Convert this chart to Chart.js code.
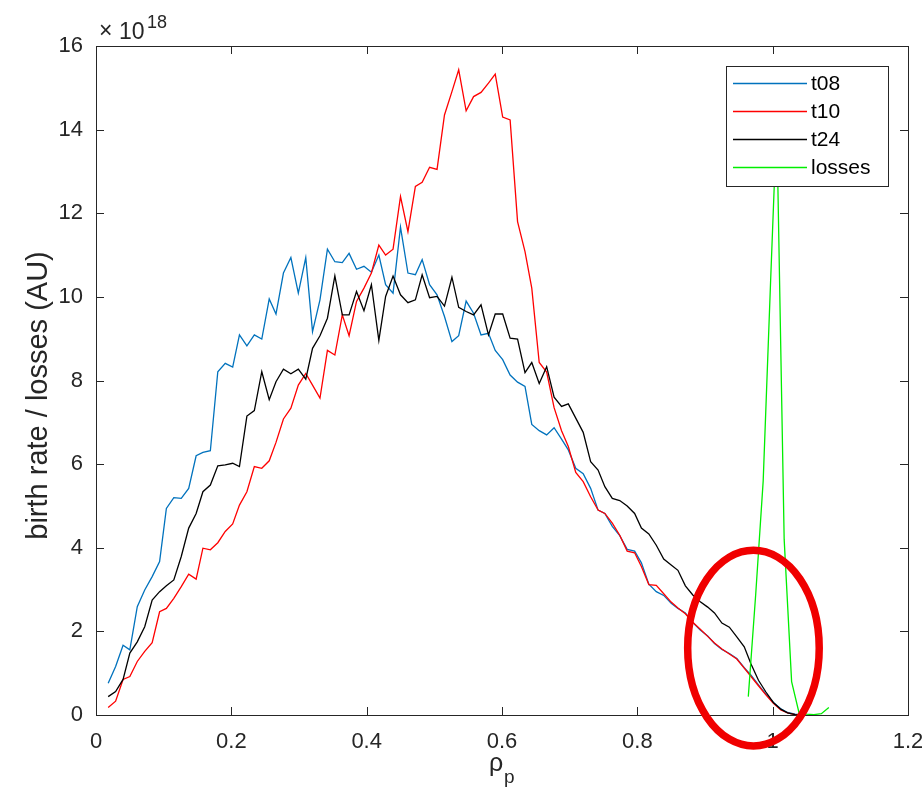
<!DOCTYPE html>
<html>
<head>
<meta charset="utf-8">
<title>birth rate / losses</title>
<script src="https://cdn.jsdelivr.net/npm/chart.js@4.4.1/dist/chart.umd.min.js"></script>
<style>
  html, body { margin: 0; padding: 0; background: #fff; }
  canvas { display: block; }
</style>
</head>
<body>
<canvas id="birthChart" width="922" height="801"></canvas>
<script>
// normalised poloidal radius of the birth profiles
const rho = [
  0.018, 0.029, 0.040, 0.050, 0.061, 0.072, 0.083, 0.094, 0.104, 0.115,
  0.126, 0.137, 0.148, 0.158, 0.169, 0.180, 0.191, 0.202, 0.212, 0.223,
  0.234, 0.245, 0.256, 0.266, 0.277, 0.288, 0.299, 0.310, 0.320, 0.331,
  0.342, 0.353, 0.364, 0.374, 0.385, 0.396, 0.407, 0.418, 0.428, 0.439,
  0.450, 0.461, 0.472, 0.482, 0.493, 0.504, 0.515, 0.526, 0.536, 0.547,
  0.558, 0.569, 0.580, 0.590, 0.601, 0.612, 0.623, 0.634, 0.644, 0.655,
  0.666, 0.677, 0.688, 0.698, 0.709, 0.720, 0.731, 0.742, 0.752, 0.763,
  0.774, 0.785, 0.796, 0.806, 0.817, 0.828, 0.839, 0.850, 0.860, 0.871,
  0.882, 0.893, 0.904, 0.914, 0.925, 0.936, 0.947, 0.958, 0.968, 0.979,
  0.990, 1.001, 1.012, 1.022, 1.033, 1.044
];

// birth rates, in units of 1e18
const t08 = [
  0.76, 1.16, 1.67, 1.56, 2.59, 2.99, 3.31, 3.67, 4.94, 5.20,
  5.18, 5.42, 6.20, 6.28, 6.32, 8.21, 8.41, 8.32, 9.09, 8.83,
  9.09, 8.99, 9.95, 9.59, 10.57, 10.94, 10.09, 10.94, 9.17, 9.93,
  11.14, 10.84, 10.82, 11.04, 10.66, 10.73, 10.59, 11.00, 10.29, 10.09,
  11.67, 10.57, 10.53, 10.89, 10.29, 10.05, 9.53, 8.93, 9.07, 9.90,
  9.61, 9.09, 9.13, 8.72, 8.50, 8.13, 7.96, 7.86, 6.95, 6.80,
  6.70, 6.87, 6.60, 6.34, 5.90, 5.77, 5.42, 4.90, 4.82, 4.51,
  4.29, 3.96, 3.92, 3.64, 3.13, 2.95, 2.86, 2.67, 2.55, 2.44,
  2.21, 2.03, 1.89, 1.71, 1.57, 1.47, 1.35, 1.13, 0.95, 0.72,
  0.50, 0.30, 0.15, 0.06, 0.02, 0.01
];
const t10 = [
  0.18, 0.33, 0.85, 0.92, 1.28, 1.52, 1.73, 2.47, 2.55, 2.79,
  3.07, 3.37, 3.25, 3.99, 3.95, 4.12, 4.39, 4.57, 5.02, 5.34,
  5.94, 5.90, 6.08, 6.52, 7.08, 7.34, 7.89, 8.17, 7.89, 7.58,
  8.72, 8.61, 9.57, 9.07, 9.89, 10.21, 10.57, 11.24, 11.00, 11.14,
  12.40, 11.56, 12.64, 12.74, 13.10, 13.05, 14.35, 14.91, 15.43, 14.45,
  14.79, 14.89, 15.11, 15.33, 14.30, 14.23, 11.80, 11.08, 10.21, 8.43,
  8.20, 7.35, 6.80, 6.42, 5.80, 5.58, 5.22, 4.90, 4.82, 4.59,
  4.30, 3.92, 3.88, 3.55, 3.12, 3.10, 2.90, 2.70, 2.56, 2.42,
  2.22, 2.05, 1.88, 1.72, 1.58, 1.46, 1.34, 1.12, 0.92, 0.70,
  0.48, 0.28, 0.12, 0.05, 0.01, 0.00
];
const t24 = [
  0.44, 0.56, 0.85, 1.48, 1.75, 2.11, 2.75, 2.95, 3.09, 3.23,
  3.79, 4.47, 4.82, 5.34, 5.50, 5.96, 5.98, 6.02, 5.94, 7.15,
  7.28, 8.21, 7.54, 7.97, 8.27, 8.16, 8.27, 8.03, 8.77, 9.07,
  9.49, 10.50, 9.57, 9.57, 10.13, 9.67, 10.29, 8.96, 10.01, 10.50,
  10.05, 9.86, 9.93, 10.53, 9.98, 10.01, 9.78, 10.47, 9.75, 9.65,
  9.57, 9.81, 9.09, 9.59, 9.59, 9.01, 8.99, 8.19, 8.43, 7.93,
  8.33, 7.60, 7.38, 7.44, 7.10, 6.76, 6.06, 5.86, 5.46, 5.18,
  5.13, 5.00, 4.82, 4.47, 4.33, 4.06, 3.73, 3.59, 3.46, 3.09,
  2.87, 2.71, 2.58, 2.44, 2.20, 2.10, 1.87, 1.63, 1.22, 0.83,
  0.55, 0.30, 0.14, 0.05, 0.01, 0.00
];

// losses live on their own radial grid around the separatrix
const lossRho = [0.964, 0.975, 0.986, 0.997, 1.006, 1.017, 1.028, 1.039, 1.050, 1.061, 1.072, 1.083];
const losses = [0.44, 2.90, 5.60, 10.40, 14.20, 4.20, 0.80, 0.05, 0.02, 0.01, 0.03, 0.18];

const xTicks = [0, 0.2, 0.4, 0.6, 0.8, 1, 1.2];
const yTicks = [0, 2, 4, 6, 8, 10, 12, 14, 16];

const axisColor = '#262626';
const fontFamily = '"Liberation Sans", Arial, Helvetica, sans-serif';
const tickLen = 8;

// edge region that is circled in red
const ring = { x: 0.9716, y: 1.60, rx: 0.0972, ry: 2.34 };

function toPoints(xs, ys) {
  return ys.map((y, i) => ({ x: xs[i], y: y }));
}

function line(label, xs, ys, color, order) {
  return {
    label: label,
    data: toPoints(xs, ys),
    borderColor: color,
    backgroundColor: color,
    borderWidth: 1.3,
    pointRadius: 0,
    tension: 0,
    fill: false,
    order: order
  };
}

// axes box with inward ticks on all four sides
const frame = {
  id: 'frame',
  afterDatasetsDraw(chart) {
    const { ctx, chartArea: a, scales: { x, y } } = chart;
    ctx.save();
    ctx.strokeStyle = axisColor;
    ctx.lineWidth = 1;
    ctx.beginPath();
    x.ticks.forEach(t => {
      const px = Math.round(x.getPixelForValue(t.value)) + 0.5;
      ctx.moveTo(px, a.bottom); ctx.lineTo(px, a.bottom - tickLen);
      ctx.moveTo(px, a.top); ctx.lineTo(px, a.top + tickLen);
    });
    y.ticks.forEach(t => {
      const py = Math.round(y.getPixelForValue(t.value)) + 0.5;
      ctx.moveTo(a.left, py); ctx.lineTo(a.left + tickLen, py);
      ctx.moveTo(a.right, py); ctx.lineTo(a.right - tickLen, py);
    });
    ctx.stroke();
    ctx.strokeRect(a.left + 0.5, a.top + 0.5, a.right - a.left, a.bottom - a.top);
    ctx.restore();
  }
};

// axis titles (x one has a subscript) and the x10^18 multiplier
const extraText = {
  id: 'extraText',
  afterDraw(chart) {
    const { ctx, chartArea: a } = chart;
    ctx.save();
    ctx.fillStyle = axisColor;
    ctx.textBaseline = 'alphabetic';
    ctx.textAlign = 'left';
    const midX = (a.left + a.right) / 2;
    ctx.font = '25px ' + fontFamily;
    ctx.fillText('ρ', midX - 13, a.bottom + 56);
    ctx.font = '19px ' + fontFamily;
    ctx.fillText('p', midX + 2, a.bottom + 68);

    ctx.font = '23px ' + fontFamily;
    ctx.fillText('×', a.left + 3, a.top - 8);
    ctx.fillText('10', a.left + 23, a.top - 7);
    ctx.font = '18px ' + fontFamily;
    ctx.fillText('18', a.left + 51, a.top - 18);

    ctx.translate(a.left - 57, (a.top + a.bottom) / 2 + 15);
    ctx.rotate(-Math.PI / 2);
    ctx.textAlign = 'center';
    ctx.textBaseline = 'middle';
    ctx.font = '29px ' + fontFamily;
    ctx.fillText('birth rate / losses (AU)', 0, 0);
    ctx.restore();
  }
};

// boxed legend inside the top right corner, drawn over the curves
const boxLegend = {
  id: 'boxLegend',
  afterDraw(chart) {
    const { ctx, chartArea: a } = chart;
    const names = ['t08', 't10', 't24', 'losses'];
    const sets = names.map(n => chart.data.datasets.find(d => d.label === n));
    const w = 162, rowH = 28, h = 120;
    const left = a.right - 20 - w, top = a.top + 20;
    ctx.save();
    ctx.fillStyle = '#fff';
    ctx.fillRect(left, top, w, h);
    ctx.strokeStyle = axisColor;
    ctx.lineWidth = 1;
    ctx.strokeRect(left + 0.5, top + 0.5, w, h);
    ctx.font = '21px ' + fontFamily;
    ctx.textBaseline = 'middle';
    ctx.textAlign = 'left';
    sets.forEach((d, k) => {
      const yy = top + 17.5 + rowH * k;
      ctx.strokeStyle = d.borderColor;
      ctx.lineWidth = d.borderWidth;
      ctx.beginPath();
      ctx.moveTo(left + 7, yy);
      ctx.lineTo(left + 81, yy);
      ctx.stroke();
      ctx.fillStyle = '#000';
      ctx.fillText(d.label, left + 85, yy + 1);
    });
    ctx.restore();
  }
};

// hand-drawn style red ellipse around the edge region
const circleMark = {
  id: 'circleMark',
  afterDraw(chart) {
    const { ctx, scales: { x, y } } = chart;
    const cx = x.getPixelForValue(ring.x);
    const cy = y.getPixelForValue(ring.y);
    const rx = x.getPixelForValue(ring.x + ring.rx) - cx;
    const ry = cy - y.getPixelForValue(ring.y + ring.ry);
    ctx.save();
    ctx.strokeStyle = '#f00000';
    ctx.lineWidth = 7.5;
    ctx.beginPath();
    ctx.ellipse(cx, cy, rx, ry, 0, 0, Math.PI * 2);
    ctx.stroke();
    ctx.restore();
  }
};

const ctx = document.getElementById('birthChart').getContext('2d');
new Chart(ctx, {
  type: 'line',
  data: {
    datasets: [
      line('t08', rho, t08, '#0072bd', 4),
      line('t10', rho, t10, '#ff0000', 3),
      line('t24', rho, t24, '#000000', 2),
      line('losses', lossRho, losses, '#00ee00', 1)
    ]
  },
  options: {
    responsive: false,
    animation: false,
    devicePixelRatio: 1,
    layout: { padding: { top: 46, right: 14, left: 0, bottom: 0 } },
    plugins: {
      legend: { display: false },
      tooltip: { enabled: false }
    },
    scales: {
      x: {
        type: 'linear',
        min: 0,
        max: 1.2,
        afterBuildTicks: s => { s.ticks = xTicks.map(v => ({ value: v })); },
        afterFit: s => { s.height = 86; s.paddingLeft = 0; s.paddingRight = 0; },
        grid: { display: false, drawTicks: false },
        border: { display: false },
        ticks: {
          color: axisColor,
          padding: 14,
          maxRotation: 0,
          font: { family: fontFamily, size: 22 },
          callback: v => String(v)
        }
      },
      y: {
        type: 'linear',
        min: 0,
        max: 16,
        afterBuildTicks: s => { s.ticks = yTicks.map(v => ({ value: v })); },
        afterFit: s => { s.width = 96; s.paddingTop = 0; s.paddingBottom = 0; },
        grid: { display: false, drawTicks: false },
        border: { display: false },
        ticks: {
          color: axisColor,
          padding: 13,
          font: { family: fontFamily, size: 22 },
          callback: v => String(v)
        }
      }
    }
  },
  plugins: [frame, extraText, boxLegend, circleMark]
});
</script>
</body>
</html>
